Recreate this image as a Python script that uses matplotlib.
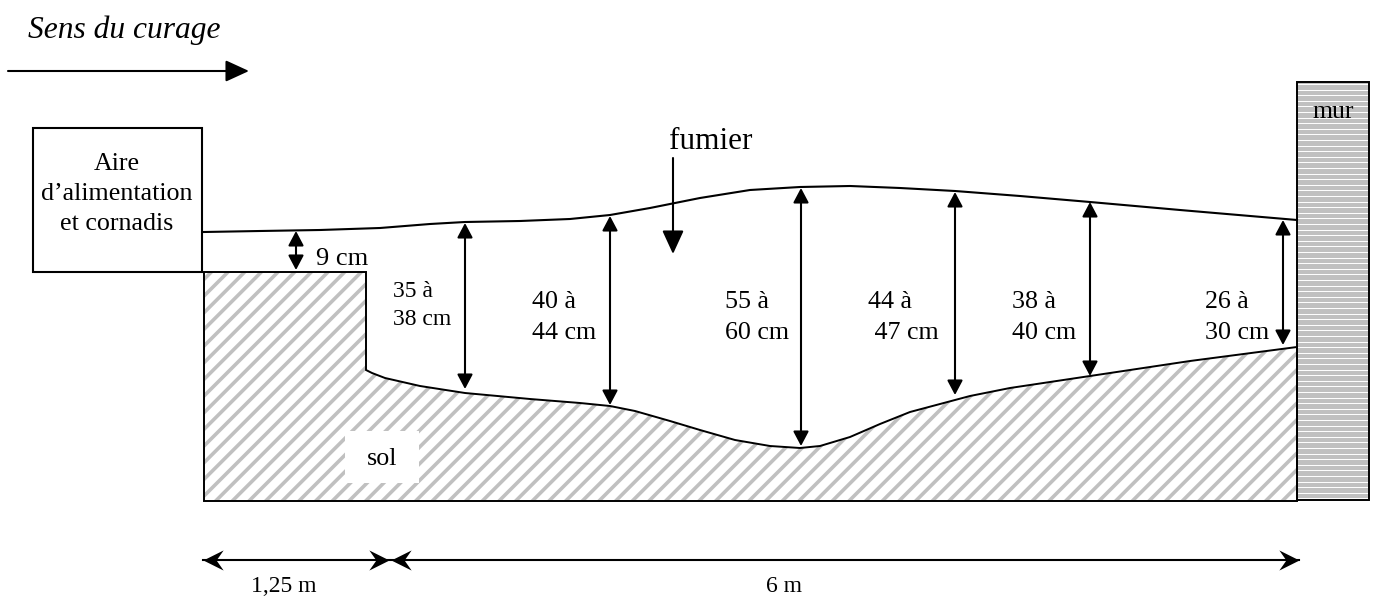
import matplotlib
matplotlib.use("Agg")
import matplotlib.pyplot as plt
import numpy as np
from matplotlib.markers import MarkerStyle
from matplotlib.patches import Polygon, Rectangle
from matplotlib.path import Path
from matplotlib.transforms import Affine2D

plt.rcParams["font.family"] = ["Liberation Serif", "DejaVu Serif"]
plt.rcParams["hatch.linewidth"] = 2.6

# outlines, in image pixels
top_x = [204, 260, 320, 380, 430, 465, 520, 570, 610, 650, 700, 750, 800, 850, 900, 955, 1020, 1090, 1180, 1297]
top_y = [232, 231, 230, 228, 224, 222, 221, 219, 215, 208, 198, 190, 187, 186, 188, 191, 196, 202, 210, 220]
floor_x = [366, 372, 385, 420, 465, 530, 580, 610, 635, 670, 700, 735, 770, 785, 800, 820, 850, 880, 910, 940, 970, 1010, 1090, 1190, 1297]
floor_y = [370, 373, 378, 386, 393, 399, 403, 406, 411, 421, 430, 440, 446, 447, 448, 446, 437, 424, 412, 404, 396, 388, 376, 361, 347]

# vertical depth arrows: x, top, bottom
depth_x = [296, 465, 610, 801, 955, 1090, 1283]
depth_top = [231, 223, 216, 188, 192, 202, 220]
depth_bot = [270, 389, 405, 446, 395, 376, 345]

depth_labels = ["9 cm", "35 à\n38 cm", "40 à\n44 cm", "55 à\n60 cm", "44 à\n 47 cm", "38 à\n40 cm", "26 à\n30 cm"]
depth_label_x = [316, 393, 532, 725, 868, 1012, 1205]
depth_label_y = [265, 325, 339, 339, 339, 339, 339]
depth_label_size = [19, 17, 18.7, 18.7, 18.7, 18.7, 18.7]
depth_label_gap = [1.5, 1.46, 1.51, 1.51, 1.51, 1.51, 1.51]

STEALTH = Path([(-1, 0.5), (0, 0), (-1, -0.5), (-0.65, 0), (-1, 0.5)],
               [Path.MOVETO, Path.LINETO, Path.LINETO, Path.LINETO, Path.CLOSEPOLY])


def stealth_arrow(ax, x0, x1, y0, y1):
    ax.plot([x0, x1], [y0, y1], color="black", lw=1.5, zorder=4)
    for x, y, angle in [(x0, y0, 180), (x1, y1, 0)]:
        m = MarkerStyle(STEALTH, transform=Affine2D().rotate_deg(angle))
        ax.plot([x], [y], marker=m, ms=29, color="black", mew=0, zorder=5)


def main():
    fig = plt.figure(figsize=(13.75, 5.98), dpi=100)
    ax = fig.add_axes([0, 0, 1, 1])
    ax.set_xlim(0, 1375)
    ax.set_ylim(598, 0)
    ax.axis("off")

    # sol
    xs = [204, 366] + floor_x + [1297, 204]
    ys = [272, 272] + floor_y + [501, 501]
    pts = np.column_stack([xs, ys])
    ax.add_patch(Polygon(pts, closed=True, facecolor="white", edgecolor="#c0c0c0", hatch="//", lw=0, zorder=1))
    ax.add_patch(Polygon(pts, closed=True, fill=False, edgecolor="black", lw=1.4, zorder=3))
    ax.add_patch(Rectangle((345, 431), 74, 52, facecolor="white", edgecolor="none", zorder=2))
    ax.text(382, 465, "sol", fontsize=18.7, ha="center", va="baseline", zorder=3)

    # fumier surface
    ax.plot(top_x, top_y, color="black", lw=1.5, zorder=3)

    # mur
    ax.add_patch(Rectangle((1297, 82), 72, 418, facecolor="#c0c0c0", edgecolor="none", zorder=1))
    ax.hlines(np.arange(84, 500, 5.6), 1297, 1369, color="white", lw=0.7, zorder=2)
    ax.add_patch(Rectangle((1297, 82), 72, 418, fill=False, edgecolor="black", lw=1.4, zorder=3))
    ax.text(1333, 118, "mur", fontsize=18.5, ha="center", va="baseline", zorder=4)

    # aire
    ax.add_patch(Rectangle((33, 128), 169, 144, facecolor="white", edgecolor="black", lw=1.5, zorder=3))
    ax.text(117, 230, "Aire\nd’alimentation\net cornadis", fontsize=18.7, ha="center", va="baseline",
            linespacing=1.48, zorder=4)

    # depth arrows
    for x, t, b in zip(depth_x, depth_top, depth_bot):
        ax.annotate("", xy=(x, t), xytext=(x, b), zorder=5,
                    arrowprops=dict(arrowstyle="<|-|>,head_length=0.68,head_width=0.36", color="black",
                                    lw=1.5, shrinkA=0, shrinkB=0, mutation_scale=13))
    for lab, x, y, size, gap in zip(depth_labels, depth_label_x, depth_label_y, depth_label_size, depth_label_gap):
        ax.text(x, y, lab, fontsize=size, ha="left", va="baseline", linespacing=gap, zorder=4)

    # fumier
    ax.text(711, 149, "fumier", fontsize=22.5, ha="center", va="baseline")
    ax.annotate("", xy=(673, 254), xytext=(673, 158),
                arrowprops=dict(arrowstyle="-|>,head_length=1.2,head_width=0.55", color="black",
                                lw=1.5, shrinkA=0, shrinkB=0, mutation_scale=12))

    # sens du curage
    ax.text(28, 38, "Sens du curage", fontsize=22.7, style="italic", ha="left", va="baseline")
    ax.annotate("", xy=(249, 71), xytext=(8, 71),
                arrowprops=dict(arrowstyle="-|>,head_length=1.2,head_width=0.55", color="black",
                                lw=1.5, shrinkA=0, shrinkB=0, mutation_scale=12))

    # dimensions
    stealth_arrow(ax, 203, 389, 560, 560)
    stealth_arrow(ax, 391, 1299, 560, 560)
    ax.text(284, 592, "1,25 m", fontsize=17, ha="center", va="baseline")
    ax.text(784, 592, "6 m", fontsize=17, ha="center", va="baseline")

    fig.savefig("out.png", dpi=100)
    plt.close(fig)


if __name__ == "__main__":
    main()
